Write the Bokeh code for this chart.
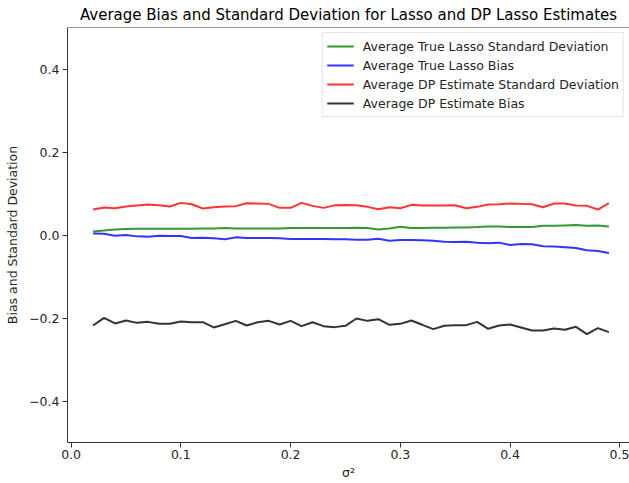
from bokeh.plotting import figure
from bokeh.models import Range1d, Span, FixedTicker, Legend, LegendItem
from bokeh.embed import file_html
from bokeh.resources import INLINE

# noise variance grid
sigma2 = [round(0.02 + 0.01 * i, 2) for i in range(48)]

true_lasso_sd = [
    0.0087, 0.0111, 0.0135, 0.0143, 0.0151, 0.0151, 0.0151, 0.0151, 0.0151, 0.0151,
    0.0159, 0.0159, 0.0167, 0.0159, 0.0159, 0.0159, 0.0159, 0.0159, 0.0167, 0.0167,
    0.0167, 0.0167, 0.0167, 0.0167, 0.0175, 0.0167, 0.0135, 0.0159, 0.0199, 0.0167,
    0.0167, 0.0175, 0.0175, 0.0183, 0.0183, 0.0191, 0.0207, 0.0207, 0.0191, 0.0191,
    0.0191, 0.0223, 0.0223, 0.0231, 0.0239, 0.0223, 0.0231, 0.0207,
]

true_lasso_bias = [
    0.0039, 0.0031, -0.0017, -0.0001, -0.0033, -0.0041, -0.0017, -0.0025, -0.0025, -0.0073,
    -0.0065, -0.0081, -0.0105, -0.0057, -0.0073, -0.0073, -0.0073, -0.0081, -0.0097, -0.0097,
    -0.0097, -0.0097, -0.0105, -0.0105, -0.0113, -0.0113, -0.0089, -0.0137, -0.0121, -0.0121,
    -0.0129, -0.0137, -0.0160, -0.0168, -0.0160, -0.0184, -0.0200, -0.0184, -0.0240, -0.0216,
    -0.0224, -0.0272, -0.0280, -0.0296, -0.0312, -0.0368, -0.0384, -0.0432,
]

dp_sd = [
    0.0614, 0.0662, 0.0646, 0.0686, 0.0710, 0.0734, 0.0718, 0.0686, 0.0774, 0.0742,
    0.0638, 0.0670, 0.0686, 0.0695, 0.0766, 0.0758, 0.0750, 0.0654, 0.0654, 0.0774,
    0.0702, 0.0654, 0.0714, 0.0722, 0.0718, 0.0678, 0.0622, 0.0670, 0.0646, 0.0726,
    0.0710, 0.0710, 0.0710, 0.0718, 0.0646, 0.0678, 0.0734, 0.0742, 0.0758, 0.0750,
    0.0742, 0.0670, 0.0758, 0.0758, 0.0710, 0.0702, 0.0614, 0.0766,
]

dp_bias = [
    -0.2180, -0.1997, -0.2132, -0.2061, -0.2117, -0.2093, -0.2141, -0.2141, -0.2085, -0.2101,
    -0.2101, -0.2228, -0.2149, -0.2069, -0.2180, -0.2101, -0.2069, -0.2156, -0.2069, -0.2196,
    -0.2101, -0.2196, -0.2220, -0.2188, -0.2013, -0.2069, -0.2029, -0.2164, -0.2141, -0.2061,
    -0.2164, -0.2268, -0.2188, -0.2172, -0.2172, -0.2093, -0.2260, -0.2180, -0.2156, -0.2228,
    -0.2300, -0.2300, -0.2252, -0.2284, -0.2212, -0.2388, -0.2244, -0.2340,
]

series_labels = [
    "Average True Lasso Standard Deviation",
    "Average True Lasso Bias",
    "Average DP Estimate Standard Deviation",
    "Average DP Estimate Bias",
]
series_colors = ["green", "blue", "red", "black"]

x_ticks = [0.0, 0.1, 0.2, 0.3, 0.4, 0.5]
y_ticks = [-0.4, -0.2, 0.0, 0.2, 0.4]

FONT = "DejaVu Sans"
TEXT = "#262626"
SIZE = "12.5px"

p = figure(
    width=629, height=483,
    output_backend="svg", toolbar_location=None,
    x_range=Range1d(-0.0033, 0.5088), y_range=Range1d(-0.5, 0.5),
    min_border_left=67, min_border_right=0, min_border_top=27, min_border_bottom=41,
    title="Average Bias and Standard Deviation for Lasso and DP Lasso Estimates",
)
p.outline_line_color = None
p.grid.visible = False
p.background_fill_color = "white"
p.border_fill_color = "white"

p.title.align = "center"
p.title.text_font = FONT
p.title.text_font_style = "normal"
p.title.text_font_size = "15px"
p.title.text_color = "black"
p.title.offset = 0
p.title.standoff = 7

# top spine of the frame
p.add_layout(Span(location=0.5, dimension="width", line_color="#333333", line_width=1))

for ax in (p.xaxis[0], p.yaxis[0]):
    ax.axis_line_color = "#333333"
    ax.major_tick_line_color = "#333333"
    ax.major_tick_in = 0
    ax.major_tick_out = 5
    ax.minor_tick_line_color = None
    ax.major_label_text_font = FONT
    ax.major_label_text_font_size = SIZE
    ax.major_label_text_color = TEXT
    ax.axis_label_text_font = FONT
    ax.axis_label_text_font_size = SIZE
    ax.axis_label_text_font_style = "normal"
    ax.axis_label_text_color = TEXT

p.xaxis.ticker = FixedTicker(ticks=x_ticks)
p.yaxis.ticker = FixedTicker(ticks=y_ticks)
p.xaxis.major_label_overrides = {t: f"{t:.1f}" for t in x_ticks}
p.yaxis.major_label_overrides = {t: f"{t:.1f}".replace("-", "\u2212") for t in y_ticks}
p.xaxis.axis_label = "\u03c3\u00b2"
p.yaxis.axis_label = "Bias and Standard Deviation"
p.xaxis.major_label_standoff = 2
p.yaxis.major_label_standoff = 3
p.xaxis.axis_label_standoff = 3
p.yaxis.axis_label_standoff = 6

items = []
for vals, lab, col in zip([true_lasso_sd, true_lasso_bias, dp_sd, dp_bias], series_labels, series_colors):
    r = p.line(sigma2, vals, line_color=col, line_width=2, line_alpha=0.8)
    items.append(LegendItem(label=lab, renderers=[r]))

legend = Legend(items=items, location="top_right")
legend.label_text_font = FONT
legend.label_text_font_size = SIZE
legend.label_text_color = TEXT
legend.glyph_width = 27
legend.glyph_height = 18
legend.label_height = 18
legend.spacing = 1
legend.padding = 4
legend.margin = 5
legend.label_standoff = 9
legend.border_line_color = "#cccccc"
legend.border_line_width = 1
legend.background_fill_alpha = 0.8
p.add_layout(legend)

open("out.html", "w").write(file_html(p, INLINE))
